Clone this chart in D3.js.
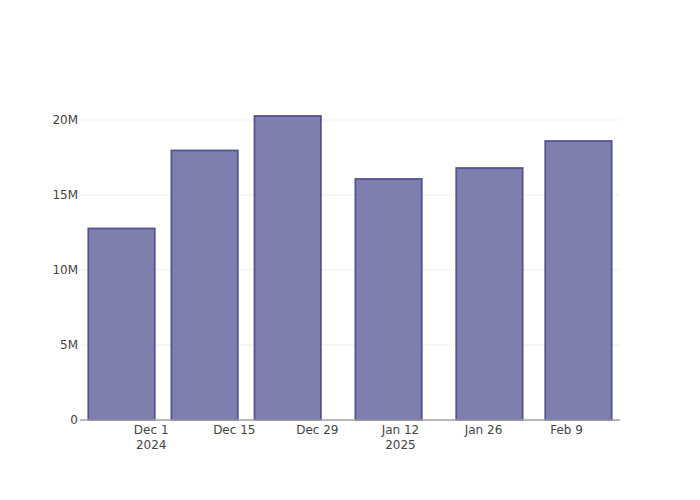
<!DOCTYPE html>
<html><head><meta charset="utf-8">
<script src="https://cdn.jsdelivr.net/npm/d3@7"></script>
<style>body{margin:0;background:#fff}svg{display:block;font-family:"DejaVu Sans",Verdana,sans-serif}</style>
</head><body><div id="chart"></div>
<script>
const dates = ["2024-11-26","2024-12-10","2024-12-24","2025-01-10","2025-01-27","2025-02-11"];
const values = [12.77e6, 17.97e6, 20.27e6, 16.07e6, 16.8e6, 18.6e6];
const yTicks = [0, 5e6, 10e6, 15e6, 20e6];
const yTickLabels = ["0","5M","10M","15M","20M"];
const xTicks = ["2024-12-01","2024-12-15","2024-12-29","2025-01-12","2025-01-26","2025-02-09"];
const xTickLabels = [["Dec 1","2024"],["Dec 15"],["Dec 29"],["Jan 12","2025"],["Jan 26"],["Feb 9"]];

const W=700,H=500,m={l:80,r:80,t:100,b:80};
const parse=d3.utcParse("%Y-%m-%d");
const day=864e5;
const dts=dates.map(parse);
const slot=14*day;
const x=d3.scaleUtc().domain([new Date(+dts[0]-slot/2), new Date(+dts[dts.length-1]+slot/2)]).range([m.l,W-m.r]);
const y=d3.scaleLinear().domain([0,21.333e6]).range([H-m.b,m.t]);
const svg=d3.select("#chart").append("svg").attr("width",W).attr("height",H);

// grid
svg.append("g").selectAll("line").data(yTicks.slice(1)).join("line")
 .attr("x1",m.l).attr("x2",W-m.r).attr("y1",d=>y(d)).attr("y2",d=>y(d))
 .attr("stroke","#eee").attr("stroke-width",1);

// bars
const bw=x(new Date(+dts[0]+slot*0.8))-x(dts[0]);
svg.append("g").selectAll("rect").data(values).join("rect")
 .attr("x",(d,i)=>x(dts[i])-bw/2).attr("width",bw)
 .attr("y",d=>y(d)).attr("height",d=>y(0)-y(d))
 .attr("fill","#7f7faf").attr("stroke","#4b4b8c").attr("stroke-width",1.8).attr("stroke-opacity",0.9);

// axis line
svg.append("line").attr("x1",m.l).attr("x2",W-m.r).attr("y1",y(0)).attr("y2",y(0))
 .attr("stroke","#a0a0a0").attr("stroke-width",1.3);

// y labels
svg.append("g").selectAll("text").data(yTicks).join("text")
 .attr("x",m.l-2).attr("y",d=>y(d)).attr("dy","0.35em").attr("text-anchor","end")
 .attr("font-size",12).attr("fill","#444").text((d,i)=>yTickLabels[i]);

// x labels
const xl=svg.append("g").selectAll("text").data(xTicks).join("text")
 .attr("x",d=>x(parse(d))).attr("y",y(0)+14).attr("text-anchor","middle")
 .attr("font-size",12).attr("fill","#444");
xl.each(function(d,i){
  const t=d3.select(this);
  xTickLabels[i].forEach((s,j)=>t.append("tspan").attr("x",x(parse(d))).attr("dy",j?"1.25em":"0").text(s));
});
</script></body></html>
